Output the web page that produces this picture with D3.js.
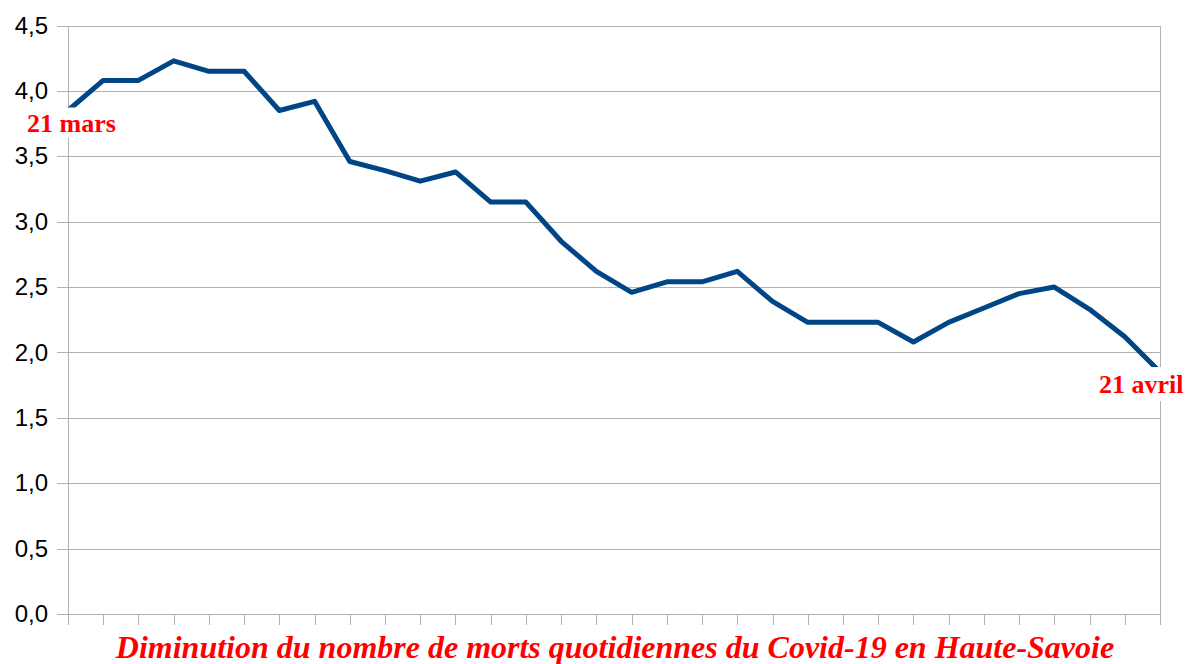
<!DOCTYPE html>
<html lang="fr">
<head>
<meta charset="UTF-8">
<title>Morts quotidiennes Covid-19 Haute-Savoie</title>
<script src="https://d3js.org/d3.v7.min.js"></script>
<style>
    body { margin: 0; background: #fff; }
    svg { display: block; }
</style>
</head>
<body>
<div id="chart"></div>
<script>
// jours du 21 mars au 21 avril
var days = ["21 mars", "22 mars", "23 mars", "24 mars", "25 mars", "26 mars", "27 mars", "28 mars",
    "29 mars", "30 mars", "31 mars", "1 avril", "2 avril", "3 avril", "4 avril", "5 avril",
    "6 avril", "7 avril", "8 avril", "9 avril", "10 avril", "11 avril", "12 avril", "13 avril",
    "14 avril", "15 avril", "16 avril", "17 avril", "18 avril", "19 avril", "20 avril", "21 avril"];

// morts quotidiennes
var deaths = [3.85, 4.08, 4.08, 4.23, 4.15, 4.15, 3.85, 3.92,
    3.46, 3.39, 3.31, 3.38, 3.15, 3.15, 2.85, 2.62,
    2.46, 2.54, 2.54, 2.62, 2.39, 2.23, 2.23, 2.23,
    2.08, 2.23, 2.34, 2.45, 2.50, 2.33, 2.12, 1.85];

var yTicks = [0, 0.5, 1, 1.5, 2, 2.5, 3, 3.5, 4, 4.5];

var title = "Diminution du nombre de morts quotidiennes du Covid-19 en Haute-Savoie";
var startLabel = "21 mars", endLabel = "21 avril";

var W = 1187, H = 664;
var m = { left: 68, right: 1160, top: 25.5, bottom: 614 };
var gridColor = "#b3b3b3";

var svg = d3.select("#chart").append("svg")
    .attr("width", W)
    .attr("height", H);

var x = d3.scalePoint()
    .domain(d3.range(days.length))
    .range([m.left, m.right]);

var y = d3.scaleLinear()
    .domain([0, 4.5])
    .range([m.bottom, m.top]);

// grille + libellés de l'axe Y
var yAxis = svg.append("g")
    .attr("transform", "translate(57,0)")
    .call(d3.axisLeft(y)
        .tickValues(yTicks)
        .tickSize(-(m.right - 57))
        .tickPadding(9)
        .tickFormat(function (d) { return d.toFixed(1).replace(".", ","); }));
yAxis.select(".domain").remove();
yAxis.selectAll("line").attr("stroke", gridColor).attr("shape-rendering", "crispEdges");
yAxis.selectAll("text")
    .attr("fill", "#000")
    .style("font-family", "'Liberation Sans', Arial, sans-serif")
    .style("font-size", "24px");

// graduations de l'axe X
var xAxis = svg.append("g")
    .attr("transform", "translate(0," + m.bottom + ")")
    .call(d3.axisBottom(x).tickSize(11).tickFormat(""));
xAxis.select(".domain").remove();
xAxis.selectAll("line").attr("stroke", gridColor).attr("shape-rendering", "crispEdges");

// bords gauche et droit
svg.selectAll(".edge")
    .data([m.left, m.right])
    .enter()
    .append("line")
    .attr("x1", function (d) { return d; })
    .attr("x2", function (d) { return d; })
    .attr("y1", m.top)
    .attr("y2", m.bottom)
    .attr("stroke", gridColor)
    .attr("shape-rendering", "crispEdges");

// courbe
var line = d3.line()
    .x(function (d, i) { return x(i); })
    .y(function (d) { return y(d); });

svg.append("path")
    .datum(deaths)
    .attr("d", line)
    .attr("fill", "none")
    .attr("stroke", "#004586")
    .attr("stroke-width", 5)
    .attr("stroke-linejoin", "round");

// étiquettes début / fin avec fond blanc
function tag(txt, tx, ty, bx, by, bw, bh) {
    svg.append("rect")
        .attr("x", bx).attr("y", by)
        .attr("width", bw).attr("height", bh)
        .attr("fill", "#fff");
    svg.append("text")
        .attr("x", tx).attr("y", ty)
        .attr("fill", "#ff0000")
        .style("font-family", "'Liberation Serif', 'Times New Roman', serif")
        .style("font-weight", "bold")
        .style("font-size", "26px")
        .text(txt);
}
var x0 = x(0), y0 = y(deaths[0]);
var x1 = x(days.length - 1), y1 = y(deaths[deaths.length - 1]);
tag(startLabel, x0 - 41, y0 + 21, x0 - 44, y0 - 3, 96, 30);
tag(endLabel, x1 - 61, y1 + 21, x1 - 64, y1 - 5, 90, 34);

// titre
svg.append("text")
    .attr("x", (m.left + m.right) / 2 + 1)
    .attr("y", 658)
    .attr("text-anchor", "middle")
    .attr("fill", "#ff0000")
    .style("font-family", "'Liberation Serif', 'Times New Roman', serif")
    .style("font-weight", "bold")
    .style("font-style", "italic")
    .style("font-size", "32px")
    .text(title);
</script>
</body>
</html>
